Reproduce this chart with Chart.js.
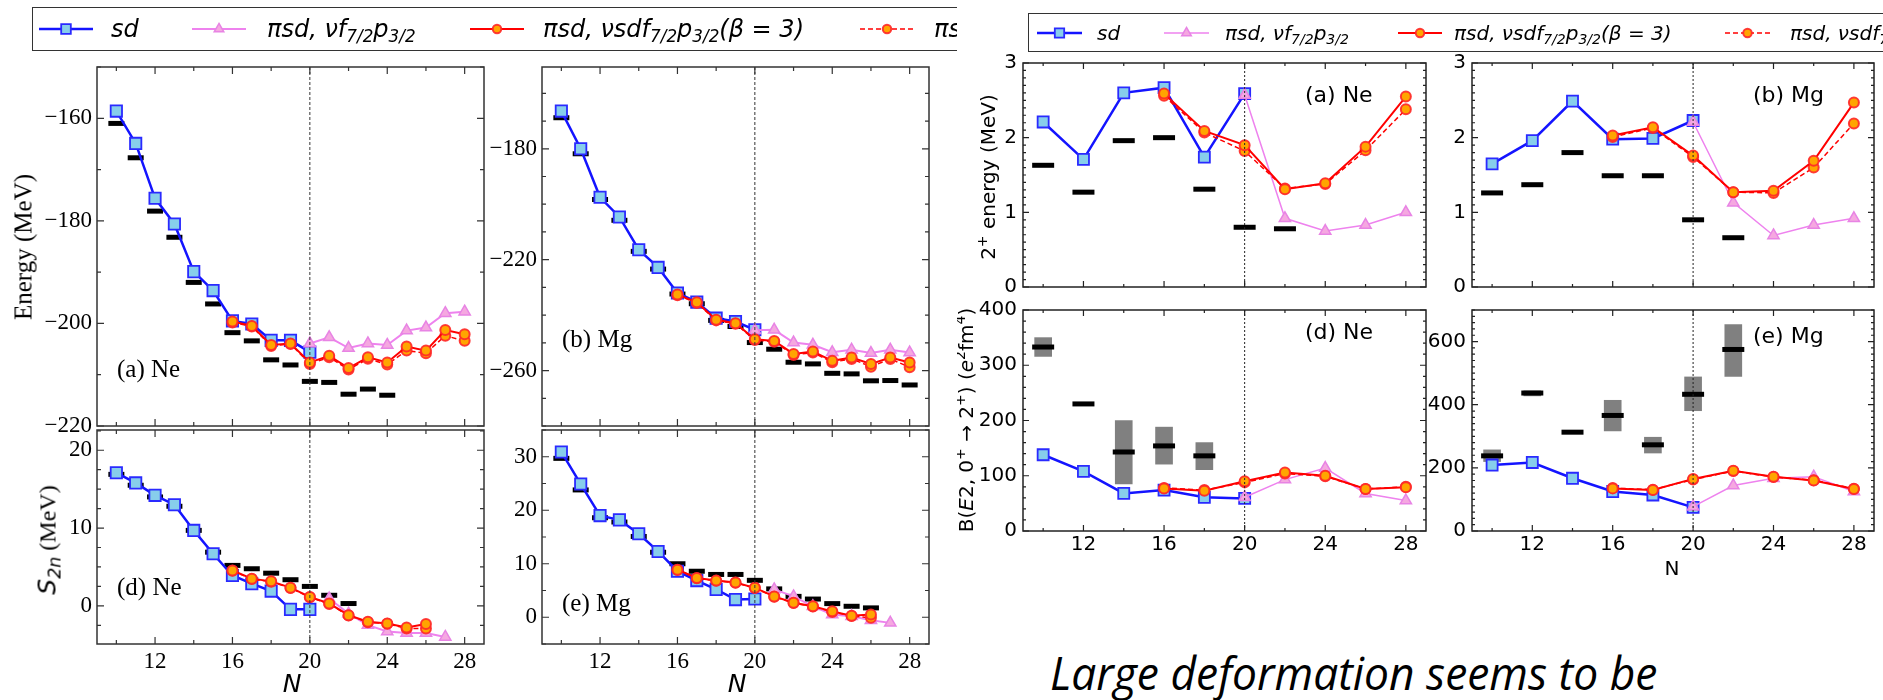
<!DOCTYPE html>
<html>
<head>
<meta charset="utf-8">
<script src="https://cdn.jsdelivr.net/npm/chart.js@4.4.1/dist/chart.umd.min.js"></script>
<style>
  body { margin: 0; width: 1883px; height: 700px; overflow: hidden; background: #fff; position: relative; }
  canvas { position: absolute; }
  .t { position: absolute; white-space: nowrap; line-height: 1; color: #000; }
  .serif { font-family: 'Liberation Serif', serif; }
  .sans { font-family: 'DejaVu Sans', sans-serif; }
  .rot { transform: translate(-50%, -50%) rotate(-90deg); }
  .mid { transform: translate(0, -50%); }
  .ctr { transform: translate(-50%, -50%); }
  sub, sup { font-size: 0.7em; line-height: 0; }
  sub { vertical-align: -0.3em; }
  sup { vertical-align: 0.55em; }
  .box { position: absolute; border: 1.5px solid #333; box-sizing: border-box; }
  #right { position: absolute; left: 957px; top: 0; width: 926px; height: 700px; overflow: hidden; background: #fff; }
  #note { position: absolute; left: 1050px; top: 650px; font-family: 'Open Sans', sans-serif; font-style: italic;
          font-size: 45px; line-height: 45px; white-space: nowrap; transform-origin: 0 0; color: #000; }
</style>
</head>
<body>
<div id="left"></div>
<div id="right"></div>
<div id="note">Large deformation seems to be</div>
<script>
// ---------- left figure: ground-state energies and S2n ----------
const nSd = [10, 11, 12, 13, 14, 15, 16, 17, 18, 19, 20];
const nFp = [16, 17, 18, 19, 20, 21, 22, 23, 24, 25, 26, 27, 28];
const nPi = [20, 21, 22, 23, 24, 25, 26, 27, 28];
const nExpNe = [10, 11, 12, 13, 14, 15, 16, 17, 18, 19, 20, 21, 22, 23, 24];
const nExpMg = [10, 11, 12, 13, 14, 15, 16, 17, 18, 19, 20, 21, 22, 23, 24, 25, 26, 27, 28];

const neEnSd = [-158.6, -164.9, -175.6, -180.6, -189.9, -193.6, -199.5, -200.1, -203.3, -203.3, -205.6];
const neEnPi = [-203.9, -202.7, -204.8, -203.9, -204.2, -201.4, -200.8, -198.0, -197.7];
const neEnB3 = [-199.6, -200.5, -204.2, -203.9, -207.6, -206.3, -208.7, -206.6, -207.6, -204.5, -205.3, -201.3, -202.1];
const neEnB2 = [-199.8, -200.6, -204.4, -204.0, -207.9, -206.6, -209.0, -206.9, -208.0, -205.3, -205.8, -202.4, -203.4];
const neEnExp = [-161.0, -167.7, -178.1, -183.2, -192.0, -196.2, -201.8, -203.4, -207.1, -208.1, -211.3, -211.5, -213.8, -212.8, -214.0];

const mgEnSd = [-166.4, -180.0, -197.5, -204.6, -216.4, -222.8, -232.0, -235.3, -241.1, -242.3, -245.3];
const mgEnPi = [-245.5, -245.3, -249.9, -250.7, -253.4, -252.5, -253.7, -252.5, -253.5];
const mgEnB3 = [-232.6, -235.4, -241.7, -242.9, -248.7, -249.3, -254.0, -253.1, -256.5, -255.3, -257.6, -255.3, -257.1];
const mgEnB2 = [-232.8, -235.6, -241.9, -243.1, -249.0, -249.6, -254.4, -253.5, -257.0, -255.8, -258.6, -255.8, -258.8];
const mgEnExp = [-168.8, -181.8, -198.3, -205.8, -217.0, -223.4, -232.4, -235.9, -241.9, -244.1, -249.9, -252.3, -257.0, -257.6, -261.0, -261.2, -263.7, -263.6, -265.2];

const nS2nFp = [16, 17, 18, 19, 20, 21, 22, 23, 24, 25, 26];
const nS2nPi = [21, 22, 23, 24, 25, 26, 27];
const nS2nExpNe = [10, 11, 12, 13, 14, 15, 16, 17, 18, 19, 20, 21, 22];
const nS2nExpMg = [10, 11, 12, 13, 14, 15, 16, 17, 18, 19, 20, 21, 22, 23, 24, 25, 26];

const neS2nSd = [17.1, 15.8, 14.2, 13.0, 9.7, 6.7, 3.9, 2.85, 1.9, -0.45, -0.45];
const neS2nB3 = [4.55, 3.5, 3.15, 2.34, 1.15, 0.3, -1.2, -2.04, -2.26, -2.77, -2.34];
const neS2nB2 = [4.5, 3.45, 3.1, 2.3, 1.1, 0.25, -1.25, -2.1, -2.3, -2.9, -2.9];
const neS2nPi = [0.94, -1.0, -2.47, -3.3, -3.5, -3.5, -4.0];
const neS2nExp = [16.9, 15.5, 14.0, 12.8, 9.7, 6.9, 5.2, 4.77, 4.2, 3.36, 2.5, 1.36, 0.3];

const mgS2nSd = [30.9, 24.9, 19.0, 18.2, 15.6, 12.3, 8.6, 6.85, 5.2, 3.3, 3.4];
const mgS2nB3 = [8.9, 7.35, 6.85, 6.5, 5.5, 3.9, 2.7, 2.05, 1.1, 0.3, 0.5];
const mgS2nB2 = [8.85, 7.3, 6.8, 6.45, 5.45, 3.85, 2.65, 2.0, 1.0, 0.25, -0.1];
const mgS2nPi = [5.2, 3.9, 2.05, 0.5, 0.2, -0.55, -1.05];
const mgS2nExp = [29.7, 23.8, 18.6, 17.8, 15.1, 12.15, 10.0, 8.6, 8.0, 8.0, 6.9, 5.3, 3.9, 3.4, 2.55, 2.05, 1.75];

// ---------- right figure: 2+ energies and B(E2) ----------
const nEvSd = [10, 12, 14, 16, 18, 20];
const nEvFp = [16, 18, 20, 22, 24, 26, 28];
const nEvPi = [20, 22, 24, 26, 28];
const nEvExp = [10, 12, 14, 16, 18, 20, 22];

const neE2Sd = [2.21, 1.71, 2.60, 2.67, 1.74, 2.59];
const neE2Pi = [2.57, 0.92, 0.75, 0.83, 1.00];
const neE2B3 = [2.59, 2.09, 1.90, 1.31, 1.39, 1.88, 2.55];
const neE2B2 = [2.56, 2.07, 1.82, 1.32, 1.38, 1.83, 2.38];
const neE2Exp = [1.63, 1.27, 1.96, 2.00, 1.31, 0.80, 0.78];

const mgE2Sd = [1.65, 1.96, 2.49, 1.98, 1.99, 2.23];
const mgE2Pi = [2.21, 1.13, 0.69, 0.83, 0.92];
const mgE2B3 = [2.03, 2.14, 1.76, 1.27, 1.29, 1.69, 2.47];
const mgE2B2 = [2.01, 2.13, 1.74, 1.27, 1.26, 1.60, 2.19];
const mgE2Exp = [1.26, 1.37, 1.80, 1.49, 1.49, 0.90, 0.66];

const neBe2Sd = [138, 108, 68, 74, 61, 59];
const neBe2Pi = [61, 93, 114, 68, 55];
const neBe2B3 = [77, 73, 90, 106, 100, 76, 79];
const neBe2B2 = [78, 74, 88, 104, 99, 76, 80];
const nBe2ExpNe = [10, 12, 14, 16, 18];
const neBe2Exp = [333, 230, 143, 154, 136];
const nBe2BoxNe = [10, 14, 16, 18];
const neBe2Lo = [316, 85, 121, 111];
const neBe2Hi = [350, 200, 188, 160];

const mgBe2Sd = [209, 217, 167, 125, 114, 75];
const mgBe2Pi = [77, 144, 167, 172, 125];
const mgBe2B3 = [135, 130, 165, 191, 172, 160, 133];
const mgBe2B2 = [136, 131, 163, 190, 171, 161, 134];
const mgBe2Exp = [238, 437, 313, 366, 273, 433, 575];
const nBe2BoxMg = [10, 12, 16, 18, 20, 22];
const mgBe2Lo = [220, 428, 317, 247, 381, 490];
const mgBe2Hi = [257, 444, 414, 297, 488, 654];

// ---------- tick labels ----------
const nLabels = [12, 16, 20, 24, 28];
const neEnLabels = [-220, -200, -180, -160];
const mgEnLabels = [-260, -220, -180];
const neS2nLabels = [0, 10, 20];
const mgS2nLabels = [0, 10, 20, 30];
const e2Labels = [0, 1, 2, 3];
const neBe2Labels = [0, 100, 200, 300, 400];
const mgBe2Labels = [0, 200, 400, 600];
const shellN = 20;

const PAD = 20;
const LST = { sdR: 8, piR: 6.5, fpR: 5, expR: 8, expW: 5, lw: 2.5, piLw: 2 };
const RST = { sdR: 7.8, piR: 6.5, fpR: 5, expR: 11, expW: 5, lw: 2.5, piLw: 1.5 };
const fontL = { family: 'Liberation Serif', size: 23 };
const fontR = { family: 'DejaVu Sans', size: 20 };

const xy = (ns, vs) => ns.map((n, i) => ({ x: n, y: vs[i] }));
const steps = (a, b, s) => { const out = []; for (let i = 0; a + i * s <= b + 1e-9; i++) out.push(+(a + i * s).toFixed(6)); return out; };
const has = (arr, v) => arr.some(l => Math.abs(l - v) < 1e-6);
const fmt = v => v < 0 ? '\u2212' + (-v) : String(v);

const styles = {
  b3: st => ({ showLine: true, borderColor: '#ff0000', borderWidth: 2, pointStyle: 'circle', pointRadius: st.fpR,
               pointBackgroundColor: '#ffa500', pointBorderColor: 'rgba(255,40,40,0.9)', pointBorderWidth: 2 }),
  b2: st => ({ showLine: true, borderColor: '#ff0000', borderWidth: 1.5, borderDash: [5, 3], pointStyle: 'circle', pointRadius: st.fpR,
               pointBackgroundColor: '#ffa500', pointBorderColor: 'rgba(255,40,40,0.9)', pointBorderWidth: 2 }),
  pi: st => ({ showLine: true, borderColor: '#ee82ee', borderWidth: st.piLw, pointStyle: 'triangle', pointRadius: st.piR,
               pointBackgroundColor: '#f5a8e0', pointBorderColor: '#e884e4', pointBorderWidth: 1.5 }),
  sd: st => ({ showLine: true, borderColor: '#1414ff', borderWidth: st.lw, pointStyle: 'rect', pointRadius: st.sdR,
               pointBackgroundColor: '#87ceeb', pointBorderColor: '#2a2aff', pointBorderWidth: 1.8 })
};

function series(st, sd, pi, b3, b2, exp, box) {
  const ds = [
    Object.assign({ data: b3, order: 1 }, styles.b3(st)),
    Object.assign({ data: b2, order: 2 }, styles.b2(st)),
    Object.assign({ data: pi, order: 3 }, styles.pi(st)),
    Object.assign({ data: sd, order: 4 }, styles.sd(st)),
    { data: exp, pointStyle: 'line', pointRadius: st.expR, pointBorderWidth: st.expW, pointBorderColor: '#000', order: 5 }
  ];
  if (box) ds.push({ type: 'bar', data: box, backgroundColor: '#808080', barThickness: 17, grouped: false, order: 6 });
  return ds;
}

// frame, inward ticks on all four sides and the N = 20 line
const frame = {
  id: 'frame',
  afterDatasetsDraw(chart, args, o) {
    const { ctx, chartArea: a, scales: { x, y } } = chart;
    ctx.save();
    ctx.strokeStyle = o.color;
    ctx.lineWidth = o.tickWidth;
    ctx.beginPath();
    x.ticks.forEach(t => {
      const p = x.getPixelForValue(t.value), l = t.label ? o.major : o.minor;
      ctx.moveTo(p, a.bottom); ctx.lineTo(p, a.bottom - l);
      ctx.moveTo(p, a.top); ctx.lineTo(p, a.top + l);
    });
    y.ticks.forEach(t => {
      const p = y.getPixelForValue(t.value), l = t.label ? o.major : o.minor;
      ctx.moveTo(a.left, p); ctx.lineTo(a.left + l, p);
      ctx.moveTo(a.right, p); ctx.lineTo(a.right - l, p);
    });
    ctx.stroke();
    const px = x.getPixelForValue(shellN);
    ctx.setLineDash(o.dash);
    ctx.lineWidth = 1;
    ctx.beginPath(); ctx.moveTo(px, a.top); ctx.lineTo(px, a.bottom); ctx.stroke();
    ctx.setLineDash([]);
    ctx.lineWidth = o.width;
    ctx.strokeRect(a.left, a.top, a.right - a.left, a.bottom - a.top);
    ctx.restore();
  }
};

function panel(parent, off, o) {
  const [x0, y0, x1, y1] = o.area;
  const W = x1 - x0 + o.lm + PAD, H = y1 - y0 + PAD + o.bm;
  const cv = document.createElement('canvas');
  cv.width = W; cv.height = H;
  cv.style.left = (x0 - o.lm - off) + 'px';
  cv.style.top = (y0 - PAD) + 'px';
  cv.style.width = W + 'px'; cv.style.height = H + 'px';
  parent.appendChild(cv);
  new Chart(cv, {
    type: 'scatter',
    data: { datasets: o.datasets },
    options: {
      responsive: false, animation: false, devicePixelRatio: 1,
      layout: { padding: { left: 0, top: PAD, right: PAD, bottom: 0 } },
      plugins: { legend: { display: false }, tooltip: { enabled: false },
                 frame: { color: o.frameColor, width: 1.5, tickWidth: 1.2, major: o.major, minor: o.minor, dash: o.dash } },
      scales: {
        x: {
          type: 'linear', min: 9, max: 29, offset: false,
          grid: { display: false, drawTicks: false, offset: false }, border: { display: false },
          afterBuildTicks: s => { s.ticks = steps(10, 28, 2).map(v => ({ value: v })); },
          ticks: { display: o.showX, autoSkip: false, maxRotation: 0, padding: o.xPad, font: o.font, color: '#000',
                   callback: v => has(nLabels, v) ? String(v) : '' },
          afterFit: s => { s.height = o.bm; }
        },
        y: {
          type: 'linear', min: o.yMin, max: o.yMax,
          grid: { display: false, drawTicks: false }, border: { display: false },
          afterBuildTicks: s => { s.ticks = steps(o.tick0, o.tick1, o.tickStep).map(v => ({ value: v })); },
          ticks: { autoSkip: false, padding: o.yPad, font: o.font, color: '#000',
                   callback: v => has(o.yLabels, v) ? fmt(v) : '' },
          afterFit: s => { s.width = o.lm; }
        }
      }
    },
    plugins: [frame]
  });
}

function txt(parent, off, html, x, y, cls, css) {
  const d = document.createElement('div');
  d.className = 't ' + cls;
  d.innerHTML = html;
  d.style.left = (x - off) + 'px';
  d.style.top = y + 'px';
  if (css) d.style.cssText += css;
  parent.appendChild(d);
}

function legendMark(parent, off, x0, x1, cy, st, kind) {
  const w = x1 - x0, h = 26;
  const c = document.createElement('canvas');
  c.width = w; c.height = h;
  c.style.left = (x0 - off) + 'px'; c.style.top = (cy - h / 2) + 'px';
  parent.appendChild(c);
  const g = c.getContext('2d');
  const s = styles[kind](st);
  g.strokeStyle = s.borderColor; g.lineWidth = s.borderWidth;
  if (s.borderDash) g.setLineDash(s.borderDash);
  g.beginPath(); g.moveTo(0, h / 2); g.lineTo(w, h / 2); g.stroke();
  g.setLineDash([]);
  g.fillStyle = s.pointBackgroundColor; g.strokeStyle = s.pointBorderColor; g.lineWidth = s.pointBorderWidth;
  Chart.helpers.drawPoint(g, { pointStyle: s.pointStyle, radius: s.pointRadius * 0.85, rotation: 0, borderWidth: s.pointBorderWidth }, w / 2, h / 2);
}

// ---------- left figure ----------
const left = document.getElementById('left');
const leftCommon = { font: fontL, frameColor: '#333', major: 7, minor: 4, dash: [3, 2], yPad: 5, xPad: 4 };
panel(left, 0, Object.assign({}, leftCommon, { area: [97, 67, 484, 426], lm: 97, bm: PAD, showX: false,
  yMin: -220, yMax: -150, tick0: -220, tick1: -150, tickStep: 10, yLabels: neEnLabels,
  datasets: series(LST, xy(nSd, neEnSd), xy(nPi, neEnPi), xy(nFp, neEnB3), xy(nFp, neEnB2), xy(nExpNe, neEnExp)) }));
panel(left, 0, Object.assign({}, leftCommon, { area: [97, 430, 484, 644], lm: 97, bm: 44, showX: true,
  yMin: -4.9, yMax: 22.6, tick0: -2.5, tick1: 22.5, tickStep: 2.5, yLabels: neS2nLabels,
  datasets: series(LST, xy(nSd, neS2nSd), xy(nS2nPi, neS2nPi), xy(nS2nFp, neS2nB3), xy(nS2nFp, neS2nB2), xy(nS2nExpNe, neS2nExp)) }));
panel(left, 0, Object.assign({}, leftCommon, { area: [542, 67, 929, 426], lm: 62, bm: PAD, showX: false,
  yMin: -280, yMax: -150.5, tick0: -280, tick1: -160, tickStep: 10, yLabels: mgEnLabels,
  datasets: series(LST, xy(nSd, mgEnSd), xy(nPi, mgEnPi), xy(nFp, mgEnB3), xy(nFp, mgEnB2), xy(nExpMg, mgEnExp)) }));
panel(left, 0, Object.assign({}, leftCommon, { area: [542, 430, 929, 644], lm: 62, bm: 44, showX: true,
  yMin: -5, yMax: 35, tick0: -5, tick1: 35, tickStep: 5, yLabels: mgS2nLabels,
  datasets: series(LST, xy(nSd, mgS2nSd), xy(nS2nPi, mgS2nPi), xy(nS2nFp, mgS2nB3), xy(nS2nFp, mgS2nB2), xy(nS2nExpMg, mgS2nExp)) }));

txt(left, 0, 'Energy (MeV)', 23, 247, 'serif rot', 'font-size:25px');
txt(left, 0, '<i class="sans" style="font-size:25px">S<sub>2<i>n</i></sub></i> (MeV)', 47, 540, 'serif rot', 'font-size:24px');
txt(left, 0, '(a) Ne', 117, 368, 'serif mid', 'font-size:25px');
txt(left, 0, '(b) Mg', 562, 338, 'serif mid', 'font-size:25px');
txt(left, 0, '(d) Ne', 117, 586, 'serif mid', 'font-size:25px');
txt(left, 0, '(e) Mg', 562, 602, 'serif mid', 'font-size:25px');
txt(left, 0, '<i>N</i>', 292, 683, 'sans ctr', 'font-size:25px');
txt(left, 0, '<i>N</i>', 737, 683, 'sans ctr', 'font-size:25px');

const legL = document.createElement('div');
legL.className = 'box';
legL.style.cssText += 'left:32px;top:7px;width:980px;height:44px;';
left.appendChild(legL);
const lcy = 29;
legendMark(left, 0, 39, 93, lcy, LST, 'sd');
legendMark(left, 0, 192, 246, lcy, LST, 'pi');
legendMark(left, 0, 470, 524, lcy, LST, 'b3');
legendMark(left, 0, 860, 914, lcy, LST, 'b2');
const lgL = 'font-size:24px;font-style:oblique';
txt(left, 0, 'sd', 111, lcy, 'sans mid', lgL);
txt(left, 0, '\u03c0sd, \u03bdf<sub>7/2</sub>p<sub>3/2</sub>', 267, lcy, 'sans mid', lgL);
txt(left, 0, '\u03c0sd, \u03bdsdf<sub>7/2</sub>p<sub>3/2</sub>(\u03b2 = 3)', 543, lcy, 'sans mid', lgL);
txt(left, 0, '\u03c0sd, \u03bdsdf<sub>7/2</sub>p<sub>3/2</sub>', 934, lcy, 'sans mid', lgL);

// ---------- right figure ----------
const right = document.getElementById('right');
const RO = 957;
const rightCommon = { font: fontR, frameColor: '#222', major: 6, minor: 3, dash: [2, 2], yPad: 6, xPad: 2 };
panel(right, RO, Object.assign({}, rightCommon, { area: [1023, 63, 1426, 287], lm: 66, bm: PAD, showX: false,
  yMin: 0, yMax: 3, tick0: 0, tick1: 3, tickStep: 0.1, yLabels: e2Labels,
  datasets: series(RST, xy(nEvSd, neE2Sd), xy(nEvPi, neE2Pi), xy(nEvFp, neE2B3), xy(nEvFp, neE2B2), xy(nEvExp, neE2Exp)) }));
panel(right, RO, Object.assign({}, rightCommon, { area: [1023, 310, 1426, 531], lm: 66, bm: 40, showX: true,
  yMin: 0, yMax: 400, tick0: 0, tick1: 400, tickStep: 20, yLabels: neBe2Labels,
  datasets: series(RST, xy(nEvSd, neBe2Sd), xy(nEvPi, neBe2Pi), xy(nEvFp, neBe2B3), xy(nEvFp, neBe2B2), xy(nBe2ExpNe, neBe2Exp),
                   nBe2BoxNe.map((n, i) => ({ x: n, y: [neBe2Lo[i], neBe2Hi[i]] }))) }));
panel(right, RO, Object.assign({}, rightCommon, { area: [1472, 63, 1874, 287], lm: 60, bm: PAD, showX: false,
  yMin: 0, yMax: 3, tick0: 0, tick1: 3, tickStep: 0.1, yLabels: e2Labels,
  datasets: series(RST, xy(nEvSd, mgE2Sd), xy(nEvPi, mgE2Pi), xy(nEvFp, mgE2B3), xy(nEvFp, mgE2B2), xy(nEvExp, mgE2Exp)) }));
panel(right, RO, Object.assign({}, rightCommon, { area: [1472, 310, 1874, 531], lm: 60, bm: 40, showX: true,
  yMin: 0, yMax: 700, tick0: 0, tick1: 700, tickStep: 20, yLabels: mgBe2Labels,
  datasets: series(RST, xy(nEvSd, mgBe2Sd), xy(nEvPi, mgBe2Pi), xy(nEvFp, mgBe2B3), xy(nEvFp, mgBe2B2), xy(nEvExp, mgBe2Exp),
                   nBe2BoxMg.map((n, i) => ({ x: n, y: [mgBe2Lo[i], mgBe2Hi[i]] }))) }));

txt(right, RO, '2<sup>+</sup> energy (MeV)', 988, 177, 'sans rot', 'font-size:20px');
txt(right, RO, 'B(<i>E</i>2, 0<sup>+</sup> \u2192 2<sup>+</sup>) (<i>e</i><sup>2</sup>fm<sup>4</sup>)', 966, 420, 'sans rot', 'font-size:20px');
txt(right, RO, '(a) Ne', 1305, 95, 'sans mid', 'font-size:22px');
txt(right, RO, '(b) Mg', 1753, 95, 'sans mid', 'font-size:22px');
txt(right, RO, '(d) Ne', 1305, 332, 'sans mid', 'font-size:22px');
txt(right, RO, '(e) Mg', 1753, 336, 'sans mid', 'font-size:22px');
txt(right, RO, 'N', 1672, 568, 'sans ctr', 'font-size:20px');

const legR = document.createElement('div');
legR.className = 'box';
legR.style.cssText += 'left:' + (1028 - RO) + 'px;top:13px;width:900px;height:39px;';
right.appendChild(legR);
const rcy = 32.5;
legendMark(right, RO, 1037, 1082, rcy, RST, 'sd');
legendMark(right, RO, 1164, 1209, rcy, RST, 'pi');
legendMark(right, RO, 1398, 1442, rcy, RST, 'b3');
legendMark(right, RO, 1725, 1770, rcy, RST, 'b2');
const lgR = 'font-size:20px;font-style:oblique';
txt(right, RO, 'sd', 1097, rcy, 'sans mid', lgR);
txt(right, RO, '\u03c0sd, \u03bdf<sub>7/2</sub>p<sub>3/2</sub>', 1225, rcy, 'sans mid', lgR);
txt(right, RO, '\u03c0sd, \u03bdsdf<sub>7/2</sub>p<sub>3/2</sub>(\u03b2 = 3)', 1454, rcy, 'sans mid', lgR);
txt(right, RO, '\u03c0sd, \u03bdsdf<sub>7/2</sub>p<sub>3/2</sub>', 1790, rcy, 'sans mid', lgR);

// caption text squeezed to the width it has in the slide
const note = document.getElementById('note');
note.style.transform = 'scaleX(' + (607 / note.scrollWidth) + ')';
</script>
</body>
</html>
